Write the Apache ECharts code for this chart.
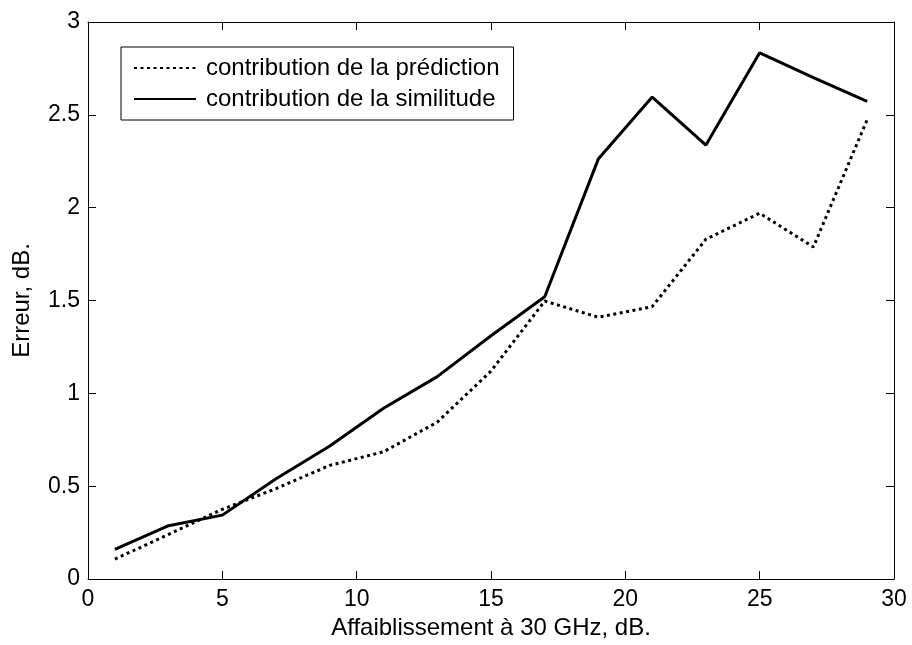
<!DOCTYPE html>
<html>
<head>
<meta charset="utf-8">
<title>Erreur vs affaiblissement</title>
<script src="https://cdn.jsdelivr.net/npm/echarts@6/dist/echarts.min.js"></script>
<style>
  html, body { margin: 0; padding: 0; background: #fff; }
  #chart { width: 912px; height: 645px; }
</style>
</head>
<body>
<div id="chart"></div>
<script>
// affaiblissement à 30 GHz (dB)
const attenuation = [1, 3, 5, 7, 9, 11, 13, 15, 17, 19, 21, 23, 25, 27, 29]
// contribution de la prédiction (pointillés)
const prediction = [0.107, 0.24, 0.375, 0.487, 0.612, 0.685, 0.845, 1.12, 1.497, 1.41, 1.467, 1.83, 1.97, 1.788, 2.474]
// contribution de la similitude (trait plein)
const similitude = [0.16, 0.287, 0.344, 0.54, 0.716, 0.92, 1.09, 1.31, 1.52, 2.264, 2.596, 2.337, 2.834, 2.7, 2.572]
const xTicks = [0, 5, 10, 15, 20, 25, 30]
const yTicks = [0, 0.5, 1, 1.5, 2, 2.5, 3]

const font = 'Liberation Sans, Arial, sans-serif'
const chart = echarts.init(document.getElementById('chart'))

const pairs = (ys) => attenuation.map((x, i) => [x, ys[i]])

const frameAxis = {
  axisLine: { show: true, onZero: false, lineStyle: { color: '#000', width: 1 } },
  axisTick: { show: true, inside: true, length: 8, lineStyle: { color: '#000' } },
  splitLine: { show: false }
}

chart.setOption({
  animation: false,
  backgroundColor: '#fff',
  grid: { left: 88, right: 18, top: 22, bottom: 62 },
  legend: {
    orient: 'vertical',
    left: 121,
    top: 47,
    padding: [9, 14, 9, 12],
    borderColor: '#000',
    borderWidth: 1,
    itemWidth: 62,
    itemHeight: 14,
    itemGap: 7,
    itemStyle: { opacity: 0 },
    textStyle: { fontFamily: font, fontSize: 24, color: '#000', padding: [0, 0, 0, 5] },
    data: ['contribution de la prédiction', 'contribution de la similitude']
  },
  xAxis: [
    Object.assign({
      type: 'value', min: 0, max: 30, interval: 5,
      name: 'Affaiblissement à 30 GHz, dB.',
      nameLocation: 'middle', nameGap: 37,
      nameTextStyle: { fontFamily: font, fontSize: 24, color: '#000' },
      axisLabel: {
        fontFamily: font, fontSize: 23, color: '#000', margin: 9,
        formatter: (v) => xTicks.includes(v) ? String(v) : ''
      }
    }, frameAxis),
    Object.assign({
      type: 'value', min: 0, max: 30, interval: 5, position: 'top',
      axisLabel: { show: false }
    }, frameAxis)
  ],
  yAxis: [
    Object.assign({
      type: 'value', min: 0, max: 3, interval: 0.5,
      name: 'Erreur, dB.',
      nameLocation: 'middle', nameGap: 54,
      nameTextStyle: { fontFamily: font, fontSize: 24, color: '#000' },
      axisLabel: {
        fontFamily: font, fontSize: 23, color: '#000', margin: 8,
        formatter: (v) => yTicks.includes(v) ? String(v) : ''
      }
    }, frameAxis),
    Object.assign({
      type: 'value', min: 0, max: 3, interval: 0.5, position: 'right',
      axisLabel: { show: false }
    }, frameAxis)
  ],
  series: [
    {
      name: 'contribution de la prédiction',
      type: 'line',
      data: pairs(prediction),
      symbol: 'none',
      lineStyle: { color: '#000', width: 3, type: [3, 3.5], cap: 'butt' },
      itemStyle: { color: '#000' }
    },
    {
      name: 'contribution de la similitude',
      type: 'line',
      data: pairs(similitude),
      symbol: 'none',
      lineStyle: { color: '#000', width: 3 },
      itemStyle: { color: '#000' }
    }
  ]
})

window.addEventListener('resize', () => chart.resize())
</script>
</body>
</html>
